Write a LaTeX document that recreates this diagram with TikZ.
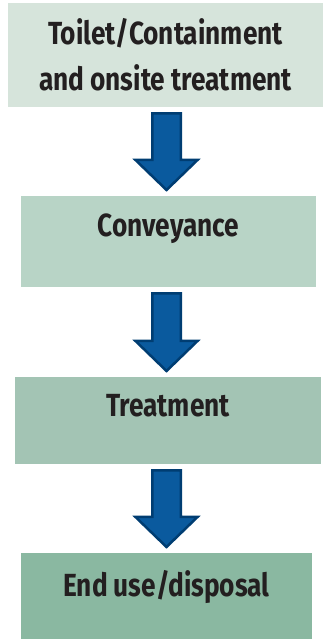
\documentclass[tikz,border=0pt]{standalone}
\usepackage{fontspec}
\usepackage{tikz}
\usetikzlibrary{calc}
\newfontfamily\stagefont[FakeStretch=0.82]{Fira Sans}
\definecolor{stageA}{HTML}{D6E4DB}
\definecolor{stageB}{HTML}{B8D4C6}
\definecolor{stageC}{HTML}{A3C4B4}
\definecolor{stageD}{HTML}{8AB8A1}
\definecolor{arrowfill}{HTML}{0A5A9E}
\definecolor{arrowedge}{HTML}{003D72}
\definecolor{stagetext}{HTML}{231F20}
\tikzset{
  stage/.style={rectangle, inner sep=0pt, text=stagetext, align=center,
    font=\stagefont\bfseries\fontsize{32}{46}\selectfont},
  flowarrow/.style={fill=arrowfill, draw=arrowedge, line width=2.5pt, line join=miter}
}
% fat downward arrow between two stages, kept on the common axis
\newcommand{\flowarrow}[2]{%
  \draw[flowarrow] let \p1=($(#1.south -| axis)+(0,-6.25)$), \p2=($(#2.north -| axis)+(0,5.8)$) in
    (\x1-14.25pt,\y1) -- (\x1+14.25pt,\y1) -- (\x1+14.25pt,\y2+30pt) -- (\x1+31pt,\y2+30pt)
    -- (\x1,\y2) -- (\x1-31pt,\y2+30pt) -- (\x1-14.25pt,\y2+30pt) -- cycle;}

\begin{document}
\begin{tikzpicture}[x=1pt,y=1pt]
  \useasboundingbox (0,0) rectangle (324,639);
  \coordinate (axis) at (166.5,0);

  \node[stage, fill=stageA, minimum width=315pt, minimum height=104pt] (toilet) at (165.5,584)
    {Toilet/Containment\\and onsite treatment};
  \node[stage, fill=stageB, minimum width=295pt, minimum height=91pt,
    text height=24pt, text depth=33pt] (conveyance) at (168.5,397.5) {Conveyance};
  \node[stage, fill=stageC, minimum width=306pt, minimum height=87pt,
    text height=24pt, text depth=31pt] (treatment) at (168,218.5) {Treatment};
  \node[stage, fill=stageD, minimum width=291pt, minimum height=86pt,
    text height=24pt, text depth=22pt] (enduse) at (166.5,43) {End use/disposal};

  \flowarrow{toilet}{conveyance}
  \flowarrow{conveyance}{treatment}
  \flowarrow{treatment}{enduse}
\end{tikzpicture}
\end{document}
